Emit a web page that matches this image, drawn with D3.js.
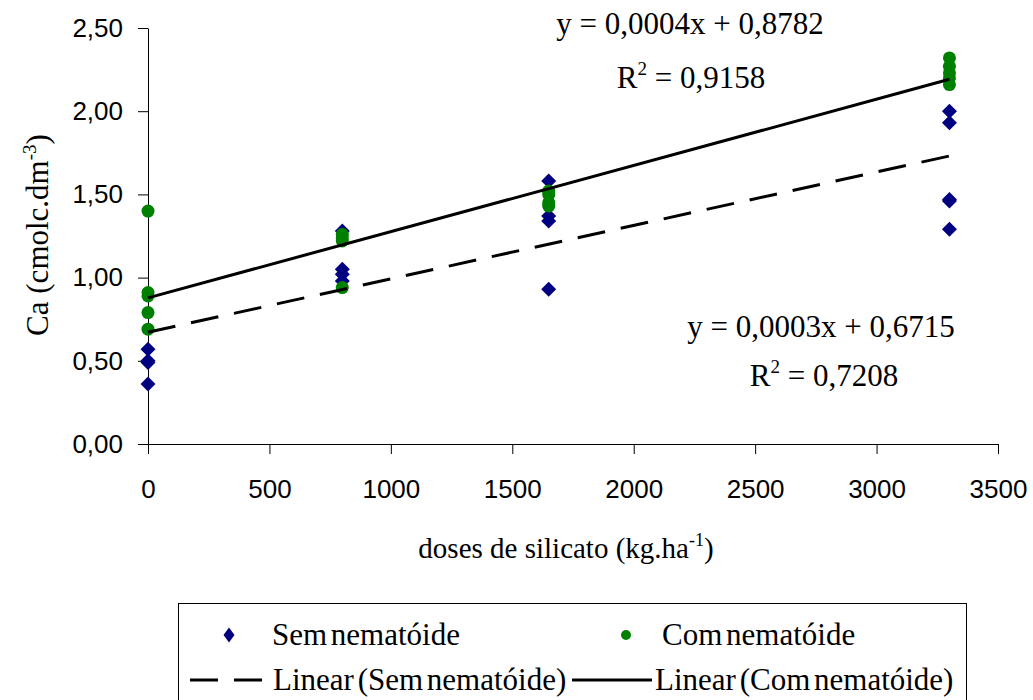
<!DOCTYPE html>
<html>
<head>
<meta charset="utf-8">
<script src="https://cdn.jsdelivr.net/npm/d3@7"></script>
<style>
  html, body { margin: 0; padding: 0; background: #fff; }
  svg { display: block; }
</style>
</head>
<body>
<svg id="chart" width="1033" height="700"></svg>
<script>
// ---- data ----
const semDoses  = [0, 0, 0, 0, 800, 800, 800, 800, 1650, 1650, 1650, 1650, 3300, 3300, 3300, 3300, 3300];
const semValues = [0.57, 0.50, 0.49, 0.36, 1.28, 1.05, 1.02, 0.98, 1.58, 1.37, 1.34, 0.93, 2.00, 1.93, 1.47, 1.46, 1.29];
const comDoses  = [0, 0, 0, 0, 0, 800, 800, 800, 800, 1650, 1650, 1650, 1650, 3300, 3300, 3300, 3300, 3300];
const comValues = [1.40, 0.91, 0.89, 0.79, 0.69, 1.26, 1.24, 1.22, 0.94, 1.52, 1.50, 1.45, 1.43, 2.32, 2.27, 2.23, 2.20, 2.16];
// trend lines: [intercept, slope], drawn over dose range
const semFit = [0.6715, 0.000321];
const comFit = [0.8782, 0.000398];
const fitRange = [0, 3300];
const xTicks = [0, 500, 1000, 1500, 2000, 2500, 3000, 3500];
const yTicks = [0, 0.5, 1.0, 1.5, 2.0, 2.5];
const semEq = ["y = 0,0003x + 0,6715", "0,7208"];
const comEq = ["y = 0,0004x + 0,8782", "0,9158"];
const legendLabels = ["Sem nematóide", "Com nematóide", "Linear (Sem nematóide)", "Linear (Com nematóide)"];

// ---- pick an installed serif font ----
function pickFont(cands, fallback) {
  const ctx = document.createElement("canvas").getContext("2d");
  const s = "doses de silicato mmmwwwiiil 0,0004x";
  const w = f => { ctx.font = "40px " + f; return ctx.measureText(s).width; };
  const wm = w("monospace"), ws = w("sans-serif");
  for (const c of cands) {
    if (w(`"${c}", monospace`) !== wm || w(`"${c}", sans-serif`) !== ws) return `"${c}"`;
  }
  return fallback;
}
const serif = pickFont(["Liberation Serif", "Times New Roman", "Tinos", "Times", "Nimbus Roman", "FreeSerif", "DejaVu Serif"], "serif");
const sans = '"Liberation Sans", Arial, sans-serif';

// ---- setup ----
const svg = d3.select("#chart");
const x = d3.scaleLinear().domain([0, 3500]).range([148, 998]);
const y = d3.scaleLinear().domain([0, 2.5]).range([444, 28]);
const fmtY = v => d3.format(".2f")(v).replace(".", ",");
const diamondPath = (w, h) => `M0,${-h}L${w},0L0,${h}L${-w},0Z`;

// axes
const gx = svg.append("g").attr("transform", "translate(0,444)")
  .call(d3.axisBottom(x).tickValues(xTicks).tickSize(10).tickSizeOuter(0).tickPadding(26).tickFormat(d3.format("d")));
const gy = svg.append("g").attr("transform", "translate(148,0)")
  .call(d3.axisLeft(y).tickValues(yTicks).tickSize(10).tickSizeOuter(0).tickPadding(15).tickFormat(fmtY));
[gx, gy].forEach(g => {
  g.attr("font-family", null).attr("font-size", null);
  g.selectAll("path,line").attr("stroke", "#000").attr("stroke-width", 1);
  g.selectAll("text").style("font-family", sans).style("font-size", "26px").attr("fill", "#000");
});

// points
const sem = semDoses.map((d, i) => ({x: d, y: semValues[i]}));
const com = comDoses.map((d, i) => ({x: d, y: comValues[i]}));
svg.append("g").selectAll("path").data(sem).join("path")
  .attr("d", diamondPath(7.5, 7.5))
  .attr("transform", d => `translate(${x(d.x)},${y(d.y)})`)
  .attr("fill", "#000080");
svg.append("g").selectAll("circle").data(com).join("circle")
  .attr("cx", d => x(d.x)).attr("cy", d => y(d.y)).attr("r", 6.5)
  .attr("fill", "#008000");

// trend lines
const line = d3.line().x(d => x(d[0])).y(d => y(d[1]));
const fitPts = f => fitRange.map(v => [v, f[0] + f[1] * v]);
svg.append("path").attr("d", line(fitPts(semFit)))
  .attr("stroke", "#000").attr("stroke-width", 3).attr("fill", "none")
  .attr("stroke-dasharray", "28,16");
svg.append("path").attr("d", line(fitPts(comFit)))
  .attr("stroke", "#000").attr("stroke-width", 3).attr("fill", "none");

// text helper
const stext = (sel, size) => sel.style("font-family", serif).style("font-size", size + "px").attr("fill", "#000");

// equations
function eq(cx, y1, cx2, y2, lines) {
  stext(svg.append("text").attr("x", cx).attr("y", y1).attr("text-anchor", "middle"), 31).text(lines[0]);
  const t = stext(svg.append("text").attr("x", cx2).attr("y", y2).attr("text-anchor", "middle"), 31);
  t.append("tspan").text("R");
  t.append("tspan").style("font-size", "19px").attr("dy", -13).text("2");
  t.append("tspan").attr("dy", 13).text(" = " + lines[1]);
}
eq(690, 34, 691, 88, comEq);
eq(821, 337, 824, 386, semEq);

// axis titles
const xt = stext(svg.append("text").attr("x", 566).attr("y", 558).attr("text-anchor", "middle"), 29);
xt.append("tspan").text("doses de silicato (kg.ha");
xt.append("tspan").style("font-size", "18px").attr("dy", -12).text("-1");
xt.append("tspan").attr("dy", 12).text(")");

const yt = stext(svg.append("text").attr("transform", "translate(48,235) rotate(-90)")
  .attr("text-anchor", "middle"), 31);
yt.append("tspan").text("Ca (cmolc.dm");
yt.append("tspan").style("font-size", "19px").attr("dy", -12).text("-3");
yt.append("tspan").attr("dy", 12).text(")");

// legend
const lg = svg.append("g");
lg.append("rect").attr("x", 178.5).attr("y", 603.5).attr("width", 788).attr("height", 110)
  .attr("fill", "#fff").attr("stroke", "#000").attr("stroke-width", 1);
const legTxt = (tx, ty, s) => stext(lg.append("text").attr("x", tx).attr("y", ty), 31)
  .style("word-spacing", "-4px").text(s);
lg.append("path").attr("d", diamondPath(5.5, 7.5))
  .attr("transform", "translate(229,635)").attr("fill", "#000080");
legTxt(272, 645, legendLabels[0]);
lg.append("circle").attr("cx", 626).attr("cy", 635).attr("r", 5).attr("fill", "#008000");
legTxt(662, 645, legendLabels[1]);
lg.append("line").attr("x1", 190).attr("x2", 262).attr("y1", 680).attr("y2", 680)
  .attr("stroke", "#000").attr("stroke-width", 3).attr("stroke-dasharray", "28,16");
legTxt(273, 690, legendLabels[2]);
lg.append("line").attr("x1", 572).attr("x2", 652).attr("y1", 680).attr("y2", 680)
  .attr("stroke", "#000").attr("stroke-width", 3);
legTxt(655, 690, legendLabels[3]);
</script>
</body>
</html>
